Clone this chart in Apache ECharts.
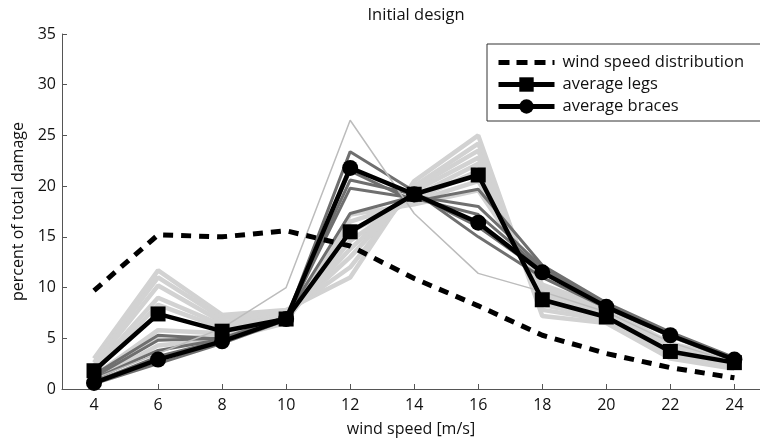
<!DOCTYPE html>
<html>
<head>
<meta charset="utf-8">
<script src="https://cdn.jsdelivr.net/npm/echarts@6/dist/echarts.min.js"></script>
<style>
  html, body { margin: 0; padding: 0; background: #fff; }
  #chart { width: 760px; height: 443px; }
</style>
</head>
<body>
<div id="chart"></div>
<script>
// wind speed bins [m/s]
const windSpeeds = [4, 6, 8, 10, 12, 14, 16, 18, 20, 22, 24];
const xTicks = [4, 6, 8, 10, 12, 14, 16, 18, 20, 22, 24];

const windDistribution = [9.7, 15.2, 15.0, 15.6, 14.1, 10.9, 8.2, 5.3, 3.5, 2.1, 1.1];
const averageLegs = [1.8, 7.4, 5.7, 6.9, 15.5, 19.2, 21.1, 8.8, 7.1, 3.7, 2.6];
const averageBraces = [0.6, 2.9, 4.7, 6.9, 21.8, 19.2, 16.4, 11.5, 8.1, 5.3, 2.9];

// individual legs (light grey)
const legMembers = [
    [3.0, 11.7, 7.3, 7.8, 11.0, 20.5, 25.0, 7.2, 6.5, 3.0, 2.0],
    [2.6, 11.0, 7.0, 7.5, 12.0, 20.0, 24.2, 7.8, 6.8, 3.2, 2.2],
    [2.3, 10.2, 6.6, 7.2, 13.0, 19.8, 23.5, 8.3, 7.0, 3.4, 2.3],
    [2.0, 9.0, 6.3, 7.0, 13.8, 19.5, 22.8, 8.8, 7.2, 3.6, 2.5],
    [1.6, 8.3, 6.0, 6.8, 14.6, 19.0, 22.2, 9.2, 7.4, 3.8, 2.7],
    [1.3, 5.8, 5.5, 6.7, 15.5, 18.7, 21.5, 9.6, 7.6, 4.0, 2.8],
    [1.1, 5.0, 5.2, 6.6, 16.5, 18.5, 20.5, 10.0, 7.8, 4.2, 2.9],
    [0.9, 4.3, 4.9, 6.5, 17.2, 18.2, 19.6, 10.3, 8.0, 4.5, 3.0]
];

// individual braces (dark grey)
const braceMembers = [
    [0.5, 2.5, 4.5, 6.8, 23.4, 19.5, 15.0, 11.0, 8.0, 5.2, 2.8],
    [0.7, 3.2, 4.8, 7.0, 20.6, 19.2, 16.0, 11.5, 8.2, 5.3, 2.9],
    [1.0, 3.8, 4.9, 7.0, 19.8, 18.8, 17.2, 11.8, 8.3, 5.4, 3.0],
    [1.2, 4.8, 5.0, 7.1, 17.3, 19.0, 18.0, 12.0, 8.4, 5.5, 3.0],
    [1.4, 5.3, 4.9, 7.1, 21.5, 18.5, 19.7, 12.2, 8.5, 5.6, 3.1]
];

// single outlier member (thin line)
const outlierMember = [1.0, 3.5, 6.0, 10.0, 26.5, 17.3, 11.4, 9.6, 7.6, 4.6, 2.6];

const pairs = vals => windSpeeds.map((x, i) => [x, vals[i]]);
const font = '"Open Sans", "Liberation Sans", sans-serif';

const chart = echarts.init(document.getElementById('chart'));

const series = [];
legMembers.forEach(v => series.push({
    type: 'line', data: pairs(v), symbol: 'none', silent: true,
    lineStyle: { color: '#d2d2d2', width: 4.5 }
}));
braceMembers.forEach(v => series.push({
    type: 'line', data: pairs(v), symbol: 'none', silent: true,
    lineStyle: { color: '#6f6f6f', width: 3 }
}));
series.push({
    type: 'line', data: pairs(outlierMember), symbol: 'none', silent: true,
    lineStyle: { color: '#bcbcbc', width: 1.5 }
});
series.push({
    name: 'wind speed distribution', type: 'line', data: pairs(windDistribution),
    symbol: 'none',
    lineStyle: { color: '#000', width: 5, type: [10, 8] },
    itemStyle: { color: '#000' }
});
series.push({
    name: 'average legs', type: 'line', data: pairs(averageLegs),
    symbol: 'rect', symbolSize: 15,
    lineStyle: { color: '#000', width: 4.5 },
    itemStyle: { color: '#000' }
});
series.push({
    name: 'average braces', type: 'line', data: pairs(averageBraces),
    symbol: 'circle', symbolSize: 16,
    lineStyle: { color: '#000', width: 4.5 },
    itemStyle: { color: '#000' }
});

const option = {
    animation: false,
    title: {
        text: 'Initial design',
        left: 411, top: 2, textAlign: 'center',
        textStyle: { fontFamily: font, fontSize: 16.5, fontWeight: 'normal', color: '#111' }
    },
    legend: {
        data: [
            { name: 'wind speed distribution', itemStyle: { opacity: 0 },
              lineStyle: { width: 5, type: [11, 7] } },
            { name: 'average legs', lineStyle: { width: 5 } },
            { name: 'average braces', lineStyle: { width: 5 } }
        ],
        orient: 'vertical',
        left: 487, top: 44,
        padding: [10, 18, 6, 9],
        itemGap: 5,
        itemWidth: 56, itemHeight: 18,
        borderColor: '#333', borderWidth: 1,
        textStyle: { fontFamily: font, fontSize: 16.5, color: '#111', padding: [0, 0, 0, 3] }
    },
    grid: { left: 62, right: 0, top: 34, bottom: 54 },
    xAxis: {
        type: 'value', min: 3, max: 24.8,
        name: 'wind speed [m/s]', nameLocation: 'middle', nameGap: 32,
        nameTextStyle: { fontFamily: font, fontSize: 16, color: '#111' },
        axisLine: { lineStyle: { color: '#555', width: 1 } },
        axisTick: { inside: true, length: 5, customValues: xTicks, lineStyle: { color: '#555' } },
        axisLabel: { customValues: xTicks, fontFamily: font, fontSize: 16, color: '#111', margin: 8 },
        splitLine: { show: false }
    },
    yAxis: {
        type: 'value', min: 0, max: 35, interval: 5,
        name: 'percent of total damage', nameLocation: 'middle', nameGap: 36,
        nameTextStyle: { fontFamily: font, fontSize: 16, color: '#111' },
        axisLine: { show: true, lineStyle: { color: '#555', width: 1 } },
        axisTick: { show: true, inside: true, length: 5, lineStyle: { color: '#555' } },
        axisLabel: { fontFamily: font, fontSize: 16, color: '#111', margin: 6 },
        splitLine: { show: false }
    },
    series: series
};

chart.setOption(option);
</script>
</body>
</html>
